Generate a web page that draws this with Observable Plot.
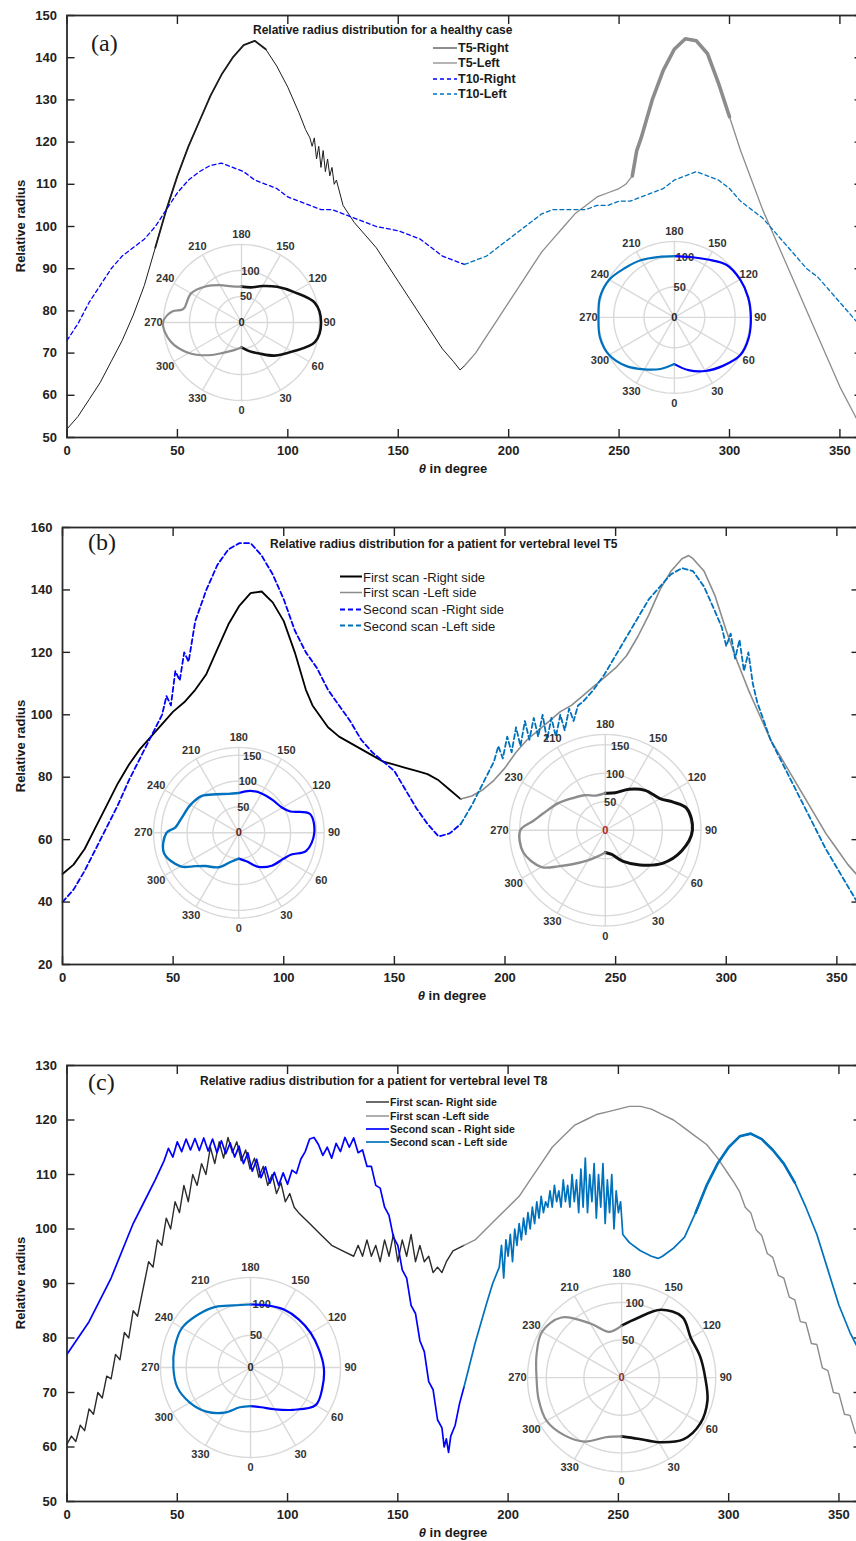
<!DOCTYPE html>
<html><head><meta charset="utf-8">
<script src="https://cdn.jsdelivr.net/npm/d3@7"></script>
<script src="https://cdn.jsdelivr.net/npm/@observablehq/plot@0.6"></script>
<style>
html,body{margin:0;padding:0;background:#fff;overflow:hidden}
#root{position:relative;width:856px;height:1541px;overflow:hidden;font-family:"Liberation Sans",Arial,sans-serif;background:#fff}
.t{position:absolute;white-space:nowrap;color:#1a1a1a}
</style></head><body><div id="root"></div>
<script>
// ---------------- DATA ----------------
const X_TICKS = [0, 50, 100, 150, 200, 250, 300, 350];
const Y_TICKS_A = [50, 60, 70, 80, 90, 100, 110, 120, 130, 140, 150];
const Y_TICKS_B = [20, 40, 60, 80, 100, 120, 140, 160];
const Y_TICKS_C = [50, 60, 70, 80, 90, 100, 110, 120, 130];
const ANGLE_LABELS = ["0","30","60","90","120","150","180","210","240","270","300","330"];
const ANGLE_LABELS_ALT = ["0","30","60","90","120","150","180","210","230","270","300","330"];
const RING_VALUES = [50, 100, 150];

// Panel (a): healthy case  [theta, relative radius]
const a_T5R = [[0,52],[5,55],[10,59],[15,63],[20,68],[25,73],[30,79],[35,86],[40,95],[45,104],[50,112],[55,119],[60,125],[65,131],[70,136],[75,140],[80,143],[85,144],[90,142],[95,138],[100,133],[105,127],[108,123],[110,121],[111,119],[112,121],[113,116],[114,119],[115,114],[116,118],[117,113],[118,116],[119,112],[120,114],[121,110],[122,111],[125,105],[130,101],[135,98],[140,95],[145,91],[150,87],[155,83],[160,79],[165,75],[170,71],[175,68],[178,66],[180,67]];
const a_T5L = [[180,67],[185,70],[190,74],[195,78],[200,82],[205,86],[210,90],[215,94],[220,97],[225,100],[230,103],[235,105],[240,107],[245,108],[250,109],[253,110],[256,112],[258,118],[260,121],[265,130],[270,137],[275,142],[280,144.5],[285,144],[290,141],[295,134],[300,126],[305,118],[310,111],[315,104],[320,98],[325,92],[330,86],[335,80],[340,74],[345,68],[350,62],[355,57],[360,52]];
const a_T10R = [[0,73],[5,77],[10,82],[15,86],[20,90],[25,93],[30,95],[35,97],[40,100],[45,104],[50,108],[55,111],[60,113],[65,114.5],[70,115],[75,114],[80,113],[85,111],[90,110],[95,109],[100,107],[105,106],[110,105],[115,104],[120,104],[125,103],[130,102],[135,101],[140,100],[145,99.5],[150,99],[155,98],[160,97],[165,95],[170,93],[175,92],[180,91]];
const a_T10L = [[180,91],[185,92],[190,93],[195,95],[200,97],[205,99],[210,101],[215,103],[220,104],[225,104],[230,104],[235,104],[240,105],[245,105],[250,106],[255,106],[260,107],[265,108],[270,109],[275,111],[280,112],[285,113],[290,112],[295,111],[300,109],[305,106],[310,104],[315,102],[320,99],[325,96],[330,93],[335,90],[340,88],[345,85],[350,82],[355,79],[360,76]];

// Panel (b): patient, T5
const b_FR = [[0,49],[5,52],[10,57],[15,64],[20,71],[25,78],[30,84],[35,89],[40,93],[45,97],[50,101],[55,104],[60,108],[65,113],[70,121],[75,129],[80,135],[85,139],[90,139.5],[95,136],[100,130],[105,120],[110,108],[113,103],[115,101],[120,96],[125,93],[130,91],[135,89],[140,87],[145,85],[150,84],[155,83],[160,82],[165,81],[170,79],[175,76],[180,73]];
const b_FL = [[180,73],[185,74],[190,76],[195,79],[200,83],[205,88],[210,92],[215,95],[220,98],[225,101],[230,103],[235,106],[240,109],[245,112],[250,115],[255,119],[260,125],[265,132],[270,140],[275,146],[280,150],[283,151],[285,150],[290,146],[295,138],[300,127],[305,117],[310,108],[315,100],[320,92],[325,86],[330,80],[335,74],[340,68],[345,62],[350,57],[355,52],[360,48]];
const b_SR = [[0,40],[5,44],[10,50],[15,57],[20,64],[25,71],[30,79],[35,86],[40,93],[45,100],[47,106],[49,103],[51,114],[53,111],[55,120],[57,117],[60,130],[65,140],[70,148],[75,153],[80,155],[85,155],[90,151],[95,145],[100,137],[105,127],[110,120],[115,115],[120,108],[125,103],[130,98],[135,92],[140,88],[145,85],[150,82],[155,76],[160,70],[165,65],[170,61],[175,62],[180,65]];
const b_SL = [[180,65],[185,71],[190,78],[195,85],[197,90],[199,86],[201,93],[203,88],[205,96],[207,90],[209,98],[211,92],[213,99],[215,93],[217,100],[219,92],[221,99],[223,93],[225,100],[227,95],[229,102],[231,98],[233,103],[235,104],[240,108],[245,113],[250,119],[255,125],[260,131],[265,137],[270,141],[275,145],[280,147],[285,146],[290,141],[295,133],[298,128],[300,122],[302,126],[304,118],[306,124],[308,114],[310,120],[312,110],[314,104],[316,100],[320,92],[325,85],[330,78],[335,71],[340,64],[345,57],[350,51],[355,45],[360,39]];

// Panel (c): patient, T8
const c_FR = [[0,60.5],[2,62],[4,61],[6,64],[8,63],[10,67],[12,66],[14,70],[16,69],[18,73],[20,72.5],[22,77],[24,76],[26,81],[28,80],[30,85],[32,84],[35,90],[37,94],[39,93],[41,98],[43,97],[45,102],[47,100],[49,105],[51,103],[53,108],[55,105],[57,110],[59,108],[61,112],[63,110],[65,115],[67,112],[69,116],[71,113],[73,116.8],[75,114],[77,116],[79,112.5],[81,114.5],[83,111],[85,113],[87,109.5],[89,111.5],[91,108],[93,110],[95,106.5],[97,108.5],[99,105],[101,106.5],[103,104],[105,103],[110,101],[115,99],[120,97],[125,96],[130,95],[132,97],[134,95],[136,98],[138,95],[140,97],[142,94],[144,98],[146,95],[148,99],[150,94],[152,98],[154,95],[156,99],[158,94],[160,97],[162,94],[164,95],[166,92],[168,93],[170,92],[172,94],[175,96],[180,97]];
const c_FL = [[180,97],[185,98],[190,100],[195,102],[200,104],[205,106],[210,109],[215,112],[220,115],[225,117],[230,119],[235,120],[240,121],[245,121.5],[250,122],[255,122.5],[260,122.5],[265,122],[270,121],[275,120],[280,118.5],[285,117],[290,115.5],[295,113],[300,110],[302.5,108.5],[305,106.8],[307.5,104],[310,103],[312.5,99.8],[315,98.8],[317.5,95.5],[320,94.8],[322.5,91.5],[325,91],[327.5,87.5],[330,87],[332.5,83],[335,82.8],[337.5,79],[340,78.8],[342.5,74.5],[345,74],[347.5,70],[350,69.8],[352.5,66],[355,65.8],[357.5,62.5],[360,62.5]];
const c_SR = [[0,77],[5,80],[10,83],[15,87],[20,91],[25,96],[30,101],[35,105],[40,109],[44,112.5],[46,114.8],[48,113.2],[50,116],[52,114.2],[54,116.5],[56,114.5],[58,116.6],[60,114.4],[62,116.7],[64,114.3],[66,116.5],[68,114],[70,116.2],[72,113.8],[74,115.8],[76,113.2],[78,115.2],[80,112],[82,114],[84,110.6],[86,112.8],[88,109.4],[90,111.4],[92,108.4],[94,110.4],[96,108],[98,110.3],[100,108.2],[102,110.8],[104,110.2],[106,112.8],[108,114.2],[110,116.5],[112,116.8],[114,115.5],[116,113.5],[118,115],[120,113],[122,115.7],[124,114.2],[126,116.8],[128,115],[130,116.7],[132,114],[134,114.5],[136,111.5],[138,111.5],[140,108],[142,107.5],[144,104],[146,102.5],[148,98.5],[150,97],[152,92.5],[154,91],[156,86],[158,84.5],[160,79.5],[162,77.5],[164,72],[166,70.5],[168,65],[170,63.5],[171,60],[172,61.5],[173,59],[174,62],[176,64],[178,68],[180,71]];
const c_SL = [[180,71],[185,79],[190,86],[193,90],[196,93],[197,97],[198,91],[199,98],[200,95],[201,99],[202,94],[203,100],[204,97],[205,101],[206,98],[207,102],[208,99],[209,103],[210,100],[211,104],[212,101],[213,105],[214,102],[215,106],[216,103],[217,105],[218,104],[219,107],[220,104],[221,108],[222,105],[223,107],[224,104],[225,109],[226,105],[227,108],[228,104],[229,110],[230,105],[231,109],[232,103],[233,111],[234,104],[235,113],[236,103],[237,110],[238,105],[239,112],[240,102],[241,110],[242,104],[243,112],[244,101],[245,109],[246,103],[247,110],[248,100],[249,107],[250,103],[251,105],[252,99],[255,97.5],[260,96],[265,95],[268,94.6],[270,95],[275,96.5],[280,98.5],[285,103],[290,108],[295,112],[300,115],[305,117],[310,117.5],[315,116.5],[320,114.5],[325,112],[330,108.5],[335,104],[340,99],[345,92.5],[350,86],[355,81],[360,77]];

// Polar insets [theta, radius]
const ins_aL_R = [[0,48],[15,57],[30,69],[45,90],[60,112],[75,146],[90,153],[105,146],[120,117],[135,97],[150,81],[165,70],[180,69]];
const ins_aL_L = [[180,69],[195,72],[210,83],[225,98],[240,112],[255,113],[258,117],[261,135],[270,151],[285,141],[300,117],[315,89],[330,67],[345,55],[360,48]];
const ins_aR_R = [[0,77],[15,90],[30,102],[45,113],[60,125],[75,127],[90,126],[105,126],[120,125],[135,122],[150,110],[165,103],[180,101]];
const ins_aR_L = [[180,101],[195,103],[210,109],[225,115],[240,124],[255,127],[270,125],[285,127],[300,124],[315,113],[330,99],[345,88],[360,77]];
const ins_bL_R = [[0,50],[15,57],[30,76],[45,90],[60,100],[67.5,110],[75,135],[90,146],[105,142],[112.5,108],[120,97],[135,91],[150,88],[165,84],[180,77]];
const ins_bL_L = [[180,77],[195,78],[210,86],[225,101],[240,108],[255,114],[265,123],[270,140],[285,150],[300,130],[307.5,106],[315,91],[330,77],[345,58],[360,50]];
const ins_bR_R = [[0,39],[15,44],[30,63],[45,86],[60,116],[75,139],[90,153],[105,148],[112.5,129],[120,111],[135,99],[150,83],[165,68],[180,65]];
const ins_bR_L = [[180,65],[195,63],[210,71],[225,80],[240,95],[255,113],[262.5,127],[270,149],[285,149],[300,129],[307.5,104],[315,85],[330,61],[345,47],[360,39]];
const ins_cL_R = [[0,60],[15,64],[30,75],[45,93],[60,117],[75,116],[90,114],[105,110],[120,108],[135,106],[150,104],[165,100],[180,98]];
const ins_cL_L = [[180,98],[195,100],[210,109],[225,116],[240,123],[255,122],[270,120],[285,118],[300,109],[315,97],[330,81],[345,64],[360,60]];
const ins_cR_R = [[0,78],[15,84],[30,99],[45,116],[60,121],[75,118],[90,111],[105,108],[120,106],[135,114],[150,104],[165,82],[180,69]];
const ins_cR_L = [[180,69],[195,63],[210,83],[225,113],[240,122],[255,117],[270,113],[285,114],[300,115],[315,108],[330,98],[345,82],[360,78]];

// ---------------- STYLE / LAYOUT ----------------
const FONT = '"Liberation Sans", Arial, sans-serif';
const BLACK = "#111111", GRAY = "#8c8c8c", BLUE = "#0000ff", LBLUE = "#0072bd";
const root = document.getElementById("root");

function text(str, x, y, css, anchor = "start") {
  const d = document.createElement("div");
  d.className = "t";
  d.innerHTML = str;
  const tx = anchor === "middle" ? "-50%" : "0";
  d.style.cssText += `left:${x}px;top:${y}px;transform:translate(${tx},-50%);${css}`;
  root.append(d);
  return d;
}

function legend(items, x, ys, lineLen, font) {
  items.forEach((it, i) => {
    const d = document.createElement("div");
    d.className = "t";
    d.style.cssText += `left:${x}px;top:${ys[i]}px;transform:translateY(-50%);display:flex;align-items:center;font:${font}`;
    d.innerHTML = `<svg width="${lineLen}" height="6" style="margin-right:1px;flex:none"><line x1="0" y1="3" x2="${lineLen}" y2="3" stroke="${it.color}" stroke-width="${it.w}" ${it.dash ? `stroke-dasharray="${it.dash}"` : ""}/></svg><span>${it.label}</span>`;
    root.append(d);
  });
}

function mainPanel(p) {
  const svgTop = p.frameTop - 15;
  const H = p.frameBottom - svgTop + 32;
  const lineMarks = [];
  p.series.forEach(s => {
    lineMarks.push(Plot.line(s.data, {x: d => d[0], y: d => d[1], stroke: s.color, strokeWidth: s.w, strokeDasharray: s.dash || null, strokeLinejoin: "round"}));
    (s.bands || []).forEach(([lo, hi, w]) => {
      lineMarks.push(Plot.line(s.data.filter(d => d[0] >= lo && d[0] <= hi), {x: d => d[0], y: d => d[1], stroke: s.color, strokeWidth: w, strokeDasharray: s.dash || null, strokeLinejoin: "round"}));
    });
  });
  const chart = Plot.plot({
    width: 856, height: H,
    marginTop: 15, marginBottom: 32, marginLeft: p.x0, marginRight: 856 - p.x360,
    x: {domain: [0, 360]},
    y: {domain: p.yDomain},
    style: {fontFamily: FONT, fontSize: "13px", fontWeight: "bold", color: "#222", background: "transparent", overflow: "visible"},
    marks: [
      Plot.axisX({ticks: X_TICKS, tickSize: 0, tickPadding: 8, label: null}),
      Plot.axisX({ticks: X_TICKS, anchor: "bottom", tickSize: -8, tickFormat: () => "", label: null, strokeWidth: 1.4}),
      Plot.axisX({ticks: X_TICKS, anchor: "top", tickSize: -8, tickFormat: () => "", label: null, strokeWidth: 1.4}),
      Plot.axisY({ticks: p.yTicks, tickSize: 0, tickPadding: 10, label: null}),
      Plot.axisY({ticks: p.yTicks, anchor: "left", tickSize: -8, tickFormat: () => "", label: null, strokeWidth: 1.4}),
      Plot.axisY({ticks: p.yTicks, anchor: "right", tickSize: -8, tickFormat: () => "", label: null, strokeWidth: 1.4}),
      ...lineMarks,
      Plot.frame({stroke: "#2a2a2a", strokeWidth: 1.8})
    ]
  });
  chart.style.position = "absolute";
  chart.style.left = "0px";
  chart.style.top = svgTop + "px";
  root.append(chart);

  const mid = (p.frameTop + p.frameBottom) / 2;
  text("Relative radius", 20, mid, "font:bold 13px " + FONT + ";transform:translate(-50%,-50%) rotate(-90deg)", "middle");
  text('<i>θ</i> in degree', p.thetaX, p.frameBottom + 31, "font:bold 13px " + FONT, "middle");
  text(p.title, p.titleX, p.titleY, "font:bold 12px " + FONT);
  text(p.letter, p.letterX, p.letterY, 'font:24px "Liberation Serif","Times New Roman",serif');
  legend(p.series.map((s, i) => ({color: s.color, w: s.lw || s.w, dash: s.dash, label: p.legendLabels[i]})), p.legendX, p.legendYs, p.legendLen, p.legendFont);
  p.insets.forEach(inset);
}

function inset(c) {
  const k = c.k;
  const half = c.outer * k + 26;
  const S = 2 * half;
  const U = half / k;
  const rad = t => t * Math.PI / 180;
  const px = (t, r) => r * Math.sin(rad(t));
  const py = (t, r) => -r * Math.cos(rad(t));
  const rings = RING_VALUES.filter(v => v < c.outer - 4);
  const ringAll = rings.concat([c.outer]);
  const circ = d3.range(0, 361, 3);
  const ringPts = ringAll.flatMap(r => circ.map(t => ({r, t})));
  const spokes = d3.range(0, 360, 30);
  const labR = (c.outer * k + 10) / k;
  const labels = c.labels.map((s, i) => ({s, t: i * 30}));
  const chart = Plot.plot({
    width: S, height: S, margin: 0,
    x: {domain: [-U, U], axis: null},
    y: {domain: [-U, U], axis: null},
    style: {fontFamily: FONT, fontSize: "11px", fontWeight: "bold", color: "#333", background: "transparent", overflow: "visible"},
    marks: [
      Plot.line(ringPts, {x: d => px(d.t, d.r), y: d => py(d.t, d.r), z: "r", stroke: "#d9d9d9", strokeWidth: 1.4}),
      Plot.link(spokes, {x1: () => 0, y1: () => 0, x2: t => px(t, c.outer), y2: t => py(t, c.outer), stroke: "#d9d9d9", strokeWidth: 1.4}),
      Plot.text(labels, {x: d => px(d.t, labR), y: d => py(d.t, labR), text: "s", fill: "#333"}),
      Plot.text(rings, {x: r => px(170, r), y: r => py(170, r), text: r => String(r), fill: "#333"}),
      Plot.line(c.right, {x: d => px(d[0], d[1]), y: d => py(d[0], d[1]), curve: "catmull-rom", stroke: c.colR, strokeWidth: c.wR}),
      Plot.line(c.left, {x: d => px(d[0], d[1]), y: d => py(d[0], d[1]), curve: "catmull-rom", stroke: c.colL, strokeWidth: c.wL}),
      Plot.text(["0"], {x: () => 0, y: () => 0, text: d => d, fill: c.centerColor || "#222", fontSize: 11})
    ]
  });
  chart.style.position = "absolute";
  chart.style.left = (c.cx - half) + "px";
  chart.style.top = (c.cy - half) + "px";
  root.append(chart);
}

// ---------------- PANELS ----------------
mainPanel({
  frameTop: 15, frameBottom: 437, x0: 66.5, x360: 861.5, yDomain: [50, 150], yTicks: Y_TICKS_A, thetaX: 453,
  title: "Relative radius distribution for a healthy case", titleX: 253, titleY: 30,
  letter: "(a)", letterX: 91, letterY: 43,
  series: [
    {data: a_T5R, color: "#1c1c1c", w: 1, bands: [[40, 90, 1.8]]},
    {data: a_T5L, color: GRAY, w: 1.3, bands: [[256, 302, 3.6]]},
    {data: a_T10R, color: BLUE, w: 1.3, dash: "4,3"},
    {data: a_T10L, color: LBLUE, w: 1.3, dash: "4,3"}
  ],
  legendLabels: ["T5-Right", "T5-Left", "T10-Right", "T10-Left"],
  legendX: 433, legendYs: [47.7, 63.3, 79, 94.3], legendLen: 24, legendFont: "bold 12.5px " + FONT,
  insets: [
    {cx: 241, cy: 322, k: 0.52, outer: 150, labels: ANGLE_LABELS, right: ins_aL_R, left: ins_aL_L, colR: BLACK, colL: GRAY, wR: 2.6, wL: 2.2},
    {cx: 674, cy: 317, k: 0.607, outer: 125, labels: ANGLE_LABELS, right: ins_aR_R, left: ins_aR_L, colR: BLUE, colL: LBLUE, wR: 2.2, wL: 2.2}
  ]
});

mainPanel({
  frameTop: 527, frameBottom: 964, x0: 62, x360: 858.5, yDomain: [20, 160], yTicks: Y_TICKS_B, thetaX: 452,
  title: "Relative radius distribution for a patient for vertebral level T5", titleX: 270, titleY: 544,
  letter: "(b)", letterX: 88, letterY: 542,
  series: [
    {data: b_FR, color: "#000", w: 1.8},
    {data: b_FL, color: GRAY, w: 1.6},
    {data: b_SR, color: BLUE, w: 1.8, dash: "5,3"},
    {data: b_SL, color: LBLUE, w: 1.8, dash: "5,3"}
  ],
  legendLabels: ["First scan -Right side", "First scan -Left side", "Second scan -Right side", "Second scan -Left side"],
  legendX: 340, legendYs: [576.7, 592.2, 609.1, 625.6], legendLen: 22, legendFont: "13px " + FONT,
  insets: [
    {cx: 238, cy: 832, k: 0.517, outer: 165, labels: ANGLE_LABELS, right: ins_bL_R, left: ins_bL_L, colR: BLUE, colL: LBLUE, wR: 2.2, wL: 2.4, centerColor: "#5a1a1a"},
    {cx: 605, cy: 830, k: 0.57, outer: 168, labels: ANGLE_LABELS_ALT, right: ins_bR_R, left: ins_bR_L, colR: BLACK, colL: GRAY, wR: 3, wL: 2.4, centerColor: "#b22222"}
  ]
});

mainPanel({
  frameTop: 1065, frameBottom: 1501, x0: 66.5, x360: 860.5, yDomain: [50, 130], yTicks: Y_TICKS_C, thetaX: 453,
  title: "Relative radius distribution for a patient for vertebral level T8", titleX: 200, titleY: 1081,
  letter: "(c)", letterX: 88, letterY: 1082,
  series: [
    {data: c_FR, color: "#2b2b2b", w: 1.4},
    {data: c_FL, color: GRAY, w: 1.4},
    {data: c_SR, color: BLUE, w: 1.7},
    {data: c_SL, color: LBLUE, w: 1.7, bands: [[285, 330, 2.6]]}
  ],
  legendLabels: ["First scan- Right side", "First scan -Left side", "Second scan - Right side", "Second scan - Left side"],
  legendX: 366, legendYs: [1102.3, 1115.7, 1128.7, 1141.7], legendLen: 23, legendFont: "bold 10.5px " + FONT,
  insets: [
    {cx: 250, cy: 1367, k: 0.643, outer: 140, labels: ANGLE_LABELS, right: ins_cL_R, left: ins_cL_L, colR: BLUE, colL: LBLUE, wR: 2.2, wL: 2.2},
    {cx: 621, cy: 1377, k: 0.753, outer: 125, labels: ANGLE_LABELS_ALT, right: ins_cR_R, left: ins_cR_L, colR: BLACK, colL: GRAY, wR: 2.6, wL: 2.2, centerColor: "#8b2a2a"}
  ]
});
</script></body></html>
